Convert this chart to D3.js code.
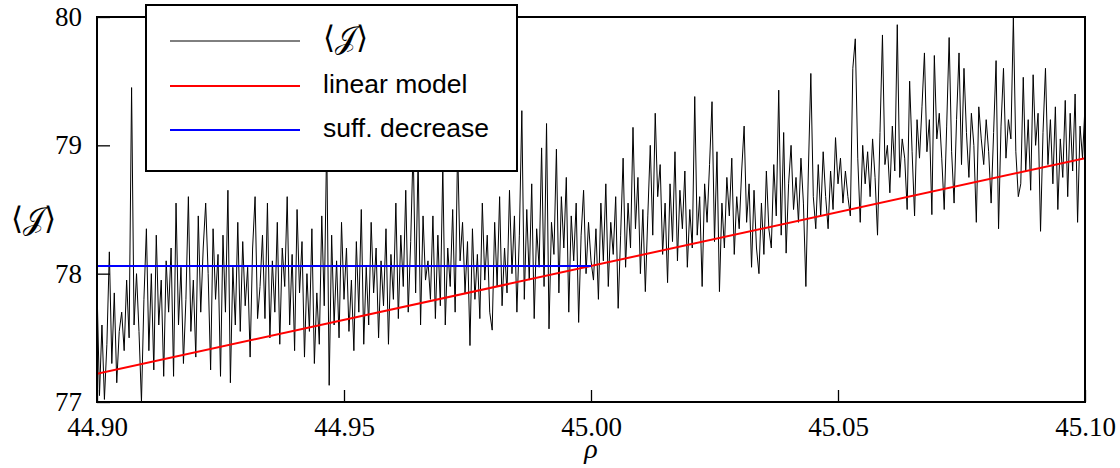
<!DOCTYPE html>
<html>
<head>
<meta charset="utf-8">
<script src="https://cdn.jsdelivr.net/npm/d3@7"></script>
<style>
  body { margin: 0; background: #fff; }
  svg { display: block; }
  .serif { font-family: "Liberation Serif", "Times New Roman", serif; }
  .sans { font-family: "Liberation Sans", Arial, sans-serif; }
</style>
</head>
<body>
<script>
// mean objective <J> sampled every 0.0005 in rho, from 44.900 to 45.100
const meanJ = [
  77.90, 77.05, 77.60, 77.02, 77.45, 78.17, 77.30, 77.85, 77.15, 77.55,
  77.70, 77.40, 77.95, 77.50, 79.45, 77.60, 78.00, 77.55, 77.00, 77.80,
  78.35, 77.40, 78.00, 77.25, 78.30, 77.60, 77.95, 77.20, 78.10, 77.70,
  78.20, 77.20, 78.55, 77.60, 78.05, 77.30, 77.80, 78.60, 77.55, 77.95,
  77.35, 78.45, 77.70, 78.20, 78.55, 78.00, 77.25, 78.35, 77.80, 78.15,
  77.20, 78.30, 77.70, 78.65, 77.15, 78.05, 77.60, 78.40, 77.55, 78.25,
  77.75, 78.05, 77.35, 78.20, 78.60, 77.65, 77.90,
  78.30, 77.65, 78.55, 77.50, 78.10, 77.70, 78.40, 77.45, 78.20, 77.90,
  78.60, 77.60, 78.15, 77.40, 78.50, 77.85, 78.25, 77.35, 78.00, 77.55,
  78.35, 77.30, 77.85, 77.45, 78.45, 77.75, 79.05, 77.13, 78.30, 77.60,
  78.10, 77.50, 78.40, 77.80, 78.20, 77.55, 77.95, 77.40, 78.25, 77.70,
  78.50, 77.45, 78.05, 77.60, 78.40, 77.85, 78.20, 77.50, 78.10, 77.75,
  78.35, 77.45, 78.15, 77.80, 78.55, 77.65, 78.30, 77.90, 78.65, 77.70,
  78.25, 79.00, 77.85, 78.90, 77.60, 78.45, 77.95,
  78.10, 77.80, 78.45, 77.65, 78.30, 77.75, 78.84, 77.60, 78.20, 77.90,
  78.50, 77.70, 79.00, 78.10, 78.40, 77.85, 78.25, 77.44, 78.35, 77.80,
  78.15, 77.65, 78.55, 77.95, 78.30, 77.70, 77.56, 78.40, 77.90, 78.60,
  77.75, 78.20, 77.85, 78.65, 78.00, 78.45, 77.70, 78.30, 79.27, 77.80,
  78.50, 77.95, 78.70, 77.65, 78.35, 78.05, 78.98, 77.90, 79.17, 77.57,
  78.40, 78.15, 78.97, 77.85, 78.60, 78.20, 78.75, 77.70, 78.45, 78.10,
  78.55, 77.62, 78.30, 78.65, 78.00, 78.40, 78.10,
  77.95, 78.35, 77.80, 78.55, 78.10, 78.70, 77.90, 78.40, 78.15, 78.60,
  77.73, 78.30, 78.90, 78.05, 78.55, 78.20, 79.14, 78.35, 78.75, 78.00,
  78.50, 77.86, 78.45, 79.00, 78.30, 79.25, 78.60, 78.85, 78.15, 78.55,
  77.93, 78.70, 78.25, 78.95, 78.10, 78.65, 78.35, 78.80, 78.05, 78.50,
  78.20, 79.38, 78.30, 78.60, 77.90, 78.70, 78.40, 78.85, 79.34, 78.25,
  78.95, 77.86, 78.55, 78.20, 78.75, 78.45, 78.90, 78.15, 78.60, 78.35,
  78.80, 79.15, 78.40, 78.70, 78.05, 78.65,
  78.20, 78.00, 78.55, 78.15, 78.80, 78.35, 78.20, 78.85, 78.45, 79.43,
  78.30, 79.10, 78.16, 78.70, 79.00, 78.50, 78.75, 78.40, 78.90, 78.55,
  77.90, 78.80, 79.56, 78.60, 78.35, 78.85, 78.45, 78.95, 78.60, 78.35,
  78.80, 78.50, 79.06, 78.70, 78.90, 78.55, 78.80, 78.60, 78.45, 79.60,
  79.83, 78.90, 78.40, 79.00, 78.70, 78.95, 78.60, 79.05, 78.75, 78.30,
  79.10, 79.86, 78.85, 79.00, 78.63, 79.15, 78.80, 79.94, 78.75, 79.05,
  78.90, 78.50, 79.50, 78.95, 78.45, 79.20,
  78.90, 79.30, 79.72, 78.95, 79.20, 78.46, 79.70, 79.05, 79.25, 78.90,
  78.50, 79.15, 79.84, 78.95, 78.55, 79.20, 79.72, 78.85, 79.60, 79.10,
  78.75, 79.25, 79.00, 78.40, 79.30, 79.05, 78.85, 79.20, 78.95, 78.55,
  79.10, 79.66, 78.35, 79.15, 79.60, 78.90, 79.20, 79.05, 80.00, 78.95,
  78.60, 78.70, 79.53, 78.80, 79.20, 78.65, 79.55, 79.00, 79.25, 78.33,
  79.10, 79.60, 78.85, 79.20, 78.70, 79.30, 78.50, 79.05, 78.75, 79.35,
  78.60, 79.25, 78.80, 79.40, 78.40, 79.15, 78.90, 79.31
];
const rhoStart = 44.90;
const rhoStep = 0.0005;

const linearModel = [[44.90, 77.22], [45.10, 78.90]];
const suffDecrease = [[44.90, 78.06], [45.00, 78.06]];

const xTicks = [44.90, 44.95, 45.00, 45.05, 45.10];
const yTicks = [77, 78, 79, 80];
const legendLabels = ['\u27E8\uD835\uDCA5\u27E9', 'linear model', 'suff. decrease'];
const legendColors = ['#000', '#ff0000', '#0000ff'];

const w = 1120;
const h = 468;
const margin = { top: 17, right: 35, bottom: 66, left: 97 };
const innerWidth = w - margin.left - margin.right;
const innerHeight = h - margin.top - margin.bottom;

const svg = d3.select('body')
    .append('svg')
    .attr('width', w)
    .attr('height', h);

const xScale = d3.scaleLinear()
    .domain([44.90, 45.10])
    .range([0, innerWidth]);

const yScale = d3.scaleLinear()
    .domain([77, 80])
    .range([innerHeight, 0]);

const g = svg.append('g')
    .attr('transform', `translate(${margin.left},${margin.top})`);

svg.append('defs').append('clipPath')
    .attr('id', 'plot-clip')
    .append('rect')
    .attr('width', innerWidth)
    .attr('height', innerHeight);

const jData = meanJ.map((v, i) => [rhoStart + i * rhoStep, v]);

const line = d3.line()
    .x(d => xScale(d[0]))
    .y(d => yScale(d[1]));

const plot = g.append('g').attr('clip-path', 'url(#plot-clip)');

plot.append('path')
    .datum(jData)
    .attr('fill', 'none')
    .attr('stroke', '#000')
    .attr('stroke-width', 1)
    .attr('d', line);

plot.append('path')
    .datum(linearModel)
    .attr('fill', 'none')
    .attr('stroke', '#ff0000')
    .attr('stroke-width', 2)
    .attr('d', line);

plot.append('path')
    .datum(suffDecrease)
    .attr('fill', 'none')
    .attr('stroke', '#0000ff')
    .attr('stroke-width', 2)
    .attr('d', line);

// axes with inward ticks
const xAxisG = g.append('g')
    .attr('transform', `translate(0,${innerHeight})`)
    .call(d3.axisBottom(xScale)
        .tickValues(xTicks)
        .tickFormat(d3.format('.2f'))
        .tickSizeInner(-12)
        .tickSizeOuter(0)
        .tickPadding(15));

const yAxisG = g.append('g')
    .call(d3.axisLeft(yScale)
        .tickValues(yTicks)
        .tickFormat(d3.format('d'))
        .tickSizeInner(-13)
        .tickSizeOuter(0)
        .tickPadding(15));

[xAxisG, yAxisG].forEach(ax => {
    ax.attr('font-family', null).attr('font-size', null);
    ax.select('.domain').remove();
    ax.selectAll('.tick line').attr('stroke', '#000').attr('stroke-width', 1.3);
    ax.selectAll('.tick text')
        .attr('class', 'serif')
        .attr('fill', '#000')
        .attr('font-size', 27);
});

g.append('rect')
    .attr('width', innerWidth)
    .attr('height', innerHeight)
    .attr('fill', 'none')
    .attr('stroke', '#000')
    .attr('stroke-width', 2);

// axis labels
svg.append('text')
    .attr('class', 'serif')
    .attr('x', margin.left + xScale(45.00))
    .attr('y', 458)
    .attr('text-anchor', 'middle')
    .attr('font-style', 'italic')
    .attr('font-size', 28)
    .text('\u03C1');

svg.append('text')
    .attr('class', 'serif')
    .attr('x', 33)
    .attr('y', 222)
    .attr('text-anchor', 'middle')
    .attr('dominant-baseline', 'middle')
    .attr('font-size', 31)
    .text(legendLabels[0]);

// legend
const legend = svg.append('g');

legend.append('rect')
    .attr('x', 146)
    .attr('y', 5)
    .attr('width', 371)
    .attr('height', 166)
    .attr('fill', '#fff')
    .attr('stroke', '#000')
    .attr('stroke-width', 2);

const rowY = [41, 86, 130];

legendLabels.forEach((label, i) => {
    legend.append('line')
        .attr('x1', 170)
        .attr('x2', 300)
        .attr('y1', rowY[i])
        .attr('y2', rowY[i])
        .attr('stroke', legendColors[i])
        .attr('stroke-width', i === 0 ? 1 : 2);

    legend.append('text')
        .attr('class', i === 0 ? 'serif' : 'sans')
        .attr('x', 323)
        .attr('y', rowY[i])
        .attr('dominant-baseline', 'middle')
        .attr('font-size', i === 0 ? 31 : 26.5)
        .attr('fill', '#000')
        .text(label);
});
</script>
</body>
</html>
